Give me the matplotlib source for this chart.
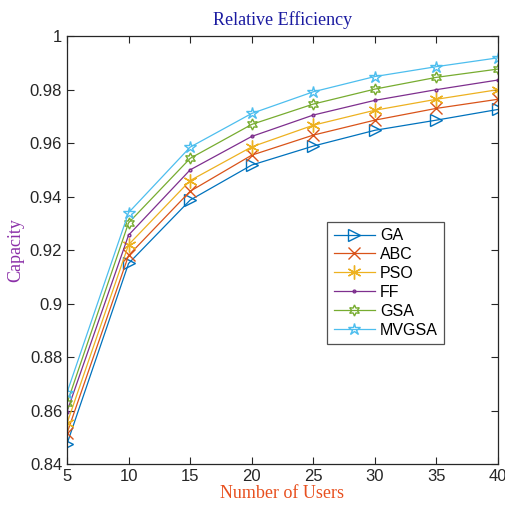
import numpy as np
import matplotlib
matplotlib.use('Agg')
import matplotlib.pyplot as plt

plt.rcParams['font.family'] = ['Liberation Sans', 'DejaVu Sans']

users = [5, 10, 15, 20, 25, 30, 35, 40]

ga    = [0.8475, 0.9150, 0.9387, 0.9518, 0.9589, 0.9648, 0.9686, 0.9726]
abc   = [0.8515, 0.9180, 0.9420, 0.9555, 0.9630, 0.9686, 0.9730, 0.9764]
pso   = [0.8552, 0.9220, 0.9460, 0.9586, 0.9667, 0.9723, 0.9764, 0.9800]
ff    = [0.8596, 0.9256, 0.9500, 0.9625, 0.9705, 0.9760, 0.9800, 0.9836]
gsa   = [0.8627, 0.9302, 0.9543, 0.9670, 0.9746, 0.9802, 0.9846, 0.9877]
mvgsa = [0.8667, 0.9340, 0.9585, 0.9711, 0.9792, 0.9849, 0.9886, 0.9919]

names = ['GA', 'ABC', 'PSO', 'FF', 'GSA', 'MVGSA']
series = [ga, abc, pso, ff, gsa, mvgsa]
colors = ['#0072BD', '#D95319', '#EDB120', '#7E2F8E', '#77AC30', '#4DBEEE']
markers = ['>', 'x', (6, 2, 0), '.', (6, 1, 0), '*']
msizes = [9, 8, 10, 4, 8, 9]

fig = plt.figure(figsize=(5.06, 5.13), dpi=100)
ax = fig.add_axes([0.1324, 0.0955, 0.8518, 0.834])

for name, vals, c, m, ms in zip(names, series, colors, markers, msizes):
    ax.plot(users, vals, color=c, marker=m, markersize=ms, markerfacecolor='none',
            markeredgecolor=c, markeredgewidth=1.0, linewidth=0.9, label=name)

ax.set_xlim(5, 40)
ax.set_ylim(0.84, 1.0)
ax.set_xticks(users)
ax.set_yticks(np.arange(0.84, 1.001, 0.02))
ax.set_yticklabels(['0.84', '0.86', '0.88', '0.9', '0.92', '0.94', '0.96', '0.98', '1'])
ax.tick_params(direction='in', top=True, right=True, labelsize=12,
               colors='#262626', length=5, width=0.8)
for s in ax.spines.values():
    s.set_color('#262626')
    s.set_linewidth(0.9)

ax.set_title('Relative Efficiency', fontfamily='Liberation Serif', fontsize=13,
             color='#1a1aa0', pad=8)
ax.set_xlabel('Number of Users', fontfamily='Liberation Serif', fontsize=13,
              color='#E8501F', labelpad=1)
ax.set_ylabel('Capacity', fontfamily='Liberation Serif', fontsize=13,
              color='#8B2FA8', labelpad=4)

leg = ax.legend(loc='upper left', bbox_to_anchor=(0.585, 0.585), fontsize=11.5,
                frameon=True, fancybox=False, edgecolor='#262626',
                handlelength=2.6, borderpad=0.4, labelspacing=0.25, handletextpad=0.3)
leg.get_frame().set_linewidth(0.9)

fig.savefig('out.png', dpi=100)
